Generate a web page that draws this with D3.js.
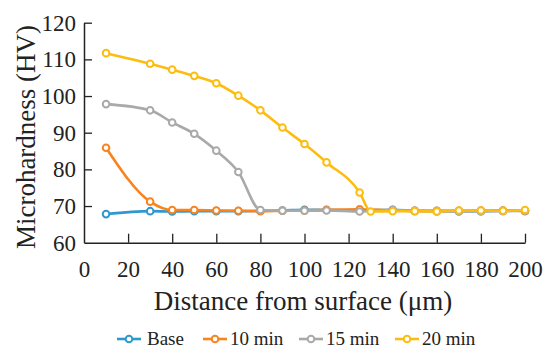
<!DOCTYPE html>
<meta charset="utf-8">
<style>
body { margin: 0; background: #fff; }
svg text { font-family: "Liberation Serif", "Times New Roman", Times, serif; fill: #222; }
</style>
<body>
<script src="https://d3js.org/d3.v7.min.js"></script>
<script>
// distances (um) for each series
var dist = [10, 30, 40, 50, 60, 70, 80, 90, 100, 110, 125, 140, 150, 160, 170, 180, 190, 200];
var dist20 = [10, 30, 40, 50, 60, 70, 80, 90, 100, 110, 125, 130, 140, 150, 160, 170, 180, 190, 200];

var base  = [67.8, 68.6, 68.5, 68.6, 68.6, 68.6, 68.7, 68.8, 69.0, 68.9, 68.8, 69.0, 68.7, 68.6, 68.6, 68.6, 68.7, 68.7];
var min10 = [85.9, 71.2, 68.9, 68.9, 68.8, 68.7, 68.6, 68.7, 68.8, 69.0, 69.1, 68.8, 68.7, 68.7, 68.7, 68.8, 68.8, 68.6];
var min15 = [97.8, 96.1, 92.8, 89.7, 85.1, 79.3, 68.9, 68.7, 68.7, 68.8, 68.5, 68.9, 68.6, 68.6, 68.5, 68.6, 68.6, 68.7];
var min20 = [111.7, 108.8, 107.2, 105.5, 103.5, 100.1, 96.1, 91.4, 86.9, 81.9, 73.7, 68.5, 68.6, 68.6, 68.5, 68.8, 68.8, 68.7, 68.9];

var names = ["Base", "10 min", "15 min", "20 min"];
var colors = ["#2f98cf", "#f7841f", "#a9a9a9", "#fdbd10"];

var xTicks = [0, 20, 40, 60, 80, 100, 120, 140, 160, 180, 200];
var yTicks = [60, 70, 80, 90, 100, 110, 120];

var width = 546, height = 349;
var serif = "'Liberation Serif', 'Times New Roman', Times, serif";

var series = [
  { name: names[0], x: dist, y: base },
  { name: names[1], x: dist, y: min10 },
  { name: names[2], x: dist, y: min15 },
  { name: names[3], x: dist20, y: min20 }
];

var svg = d3.select("body").append("svg")
    .attr("width", width)
    .attr("height", height)
    .attr("font-family", serif);

var x = d3.scaleLinear().domain([0, 200]).range([84, 525]);
var y = d3.scaleLinear().domain([60, 120]).range([242.7, 22.7]);

// axes, ticks pointing inward
var xAxis = svg.append("g")
    .attr("transform", "translate(0," + y(60) + ")")
    .call(d3.axisBottom(x).tickValues(xTicks).tickSizeInner(-9).tickSizeOuter(0).tickPadding(18));
var yAxis = svg.append("g")
    .attr("transform", "translate(" + x(0) + ",0)")
    .call(d3.axisLeft(y).tickValues(yTicks).tickSizeInner(-8).tickSizeOuter(0).tickPadding(8));

[xAxis, yAxis].forEach(function(a) {
  a.attr("font-family", serif).attr("font-size", 23);
  a.select(".domain").attr("stroke", "#222").attr("stroke-width", 1.5);
  a.selectAll(".tick line").attr("stroke", "#222").attr("stroke-width", 1.3);
  a.selectAll(".tick text")
    .attr("fill", "#222")
    .attr("font-family", serif)
    .attr("font-size", 23);
});
xAxis.select(".tick line").remove();
yAxis.selectAll(".tick line").filter(function(d) { return d === 60; }).remove();

svg.append("text")
    .attr("x", 303)
    .attr("y", 310)
    .attr("text-anchor", "middle")
    .attr("font-family", serif)
    .attr("font-size", 27)
    .text("Distance from surface (μm)");

svg.append("text")
    .attr("transform", "translate(35,137) rotate(-90)")
    .attr("text-anchor", "middle")
    .attr("font-family", serif)
    .attr("font-size", 27)
    .text("Microhardness (HV)");

var line = d3.line()
    .x(function(d) { return x(d[0]); })
    .y(function(d) { return y(d[1]); })
    .curve(d3.curveMonotoneX);

series.forEach(function(s, i) {
  var pts = s.x.map(function(v, j) { return [v, s.y[j]]; });
  var g = svg.append("g");
  g.append("path")
    .datum(pts)
    .attr("d", line)
    .attr("fill", "none")
    .attr("stroke", colors[i])
    .attr("stroke-width", 2.6);
  g.selectAll("circle")
    .data(pts)
    .enter()
    .append("circle")
    .attr("cx", function(d) { return x(d[0]); })
    .attr("cy", function(d) { return y(d[1]); })
    .attr("r", 3.3)
    .attr("fill", "#fff")
    .attr("stroke", colors[i])
    .attr("stroke-width", 2);
});

// legend
var legX = [117, 203, 299, 395];
var legend = svg.append("g");
names.forEach(function(n, i) {
  var lg = legend.append("g").attr("transform", "translate(" + legX[i] + ",339)");
  lg.append("line")
    .attr("x1", 0).attr("x2", 24).attr("y1", 0).attr("y2", 0)
    .attr("stroke", colors[i]).attr("stroke-width", 2.6);
  lg.append("circle")
    .attr("cx", 12).attr("cy", 0).attr("r", 3.3)
    .attr("fill", "#fff").attr("stroke", colors[i]).attr("stroke-width", 2);
  lg.append("text")
    .attr("x", i === 0 ? 30 : 27).attr("y", 6)
    .attr("font-family", serif)
    .attr("font-size", 19)
    .text(n);
});
</script>
</body>
</html>
